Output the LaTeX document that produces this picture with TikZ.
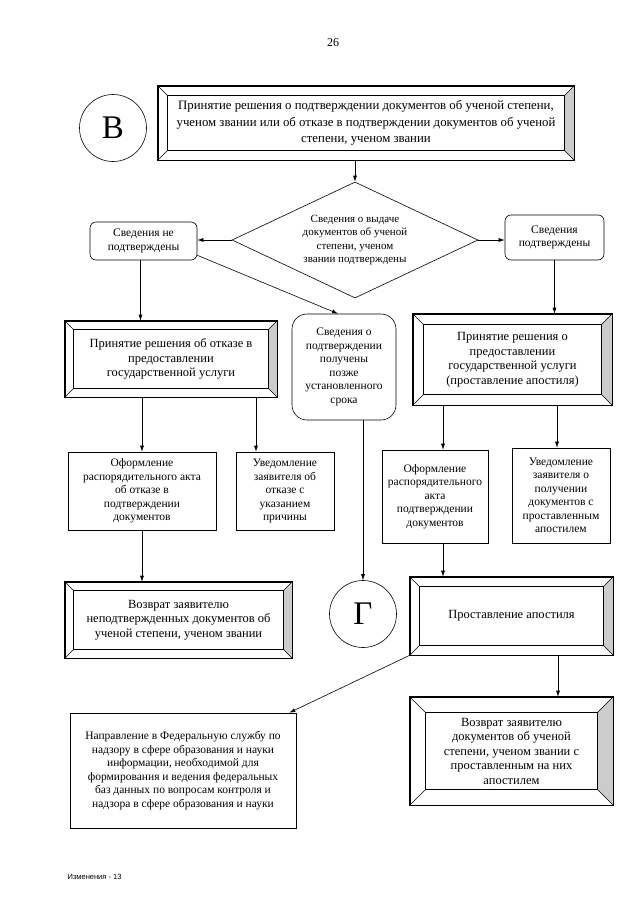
\documentclass[tikz,border=0pt]{standalone}
\usepackage{fontspec}
\setmainfont{Liberation Serif}
\newfontfamily\footfont{Liberation Sans}
\usetikzlibrary{shapes.geometric,arrows.meta}

\newcommand{\bevelframe}[2]{%
  \fill[gray!40] (#1.north east) -- (#1.south east) -- ([shift={(-#2,#2)}]#1.south east) -- ([shift={(-#2,-#2)}]#1.north east) -- cycle;
  \draw (#1.north west) rectangle (#1.south east);
  \draw ([shift={(#2,-#2)}]#1.north west) rectangle ([shift={(-#2,#2)}]#1.south east);
  \draw (#1.north west) -- ++(#2,-#2);
  \draw (#1.north east) -- ++(-#2,-#2);
  \draw (#1.south west) -- ++(#2,#2);
  \draw (#1.south east) -- ++(-#2,#2);
}

\begin{document}
\begin{tikzpicture}[x=1pt,y=-1pt,line width=0.6pt,
  bevelbox/.style={draw,inner sep=0pt,align=center,font=\fontsize{12.5}{14.5}\selectfont},
  actbox/.style={draw,inner sep=0pt,align=center,font=\fontsize{11.5}{13.5}\selectfont},
  infobox/.style={actbox,rounded corners=6pt},
  letter/.style={circle,draw,inner sep=0pt,minimum size=67pt,font=\fontsize{33}{33}\selectfont},
  flow/.style={-{Latex[length=6pt,width=4pt]}}]
\useasboundingbox (0,0) rectangle (640,905);
\node[font=\fontsize{12}{12}\selectfont] (page) at (333,43) {26};

\node[letter] (V) at (113,128) {В};
\node[bevelbox,minimum width=416pt,minimum height=74pt,font=\fontsize{12.8}{16.5}\selectfont] (top) at (366,123)
  {Принятие решения о подтверждении документов об ученой степени,\\
   ученом звании или об отказе в подтверждении документов об ученой\\
   степени, ученом звании};
\bevelframe{top}{10pt}

\node[diamond,draw,aspect=2.12,inner sep=0pt,minimum width=246pt,minimum height=116pt,align=center,font=\fontsize{11}{13.5}\selectfont] (check) at (355,240)
  {Сведения о выдаче\\ документов об ученой\\ степени, ученом\\ звании подтверждены};
\node[infobox,minimum width=107pt,minimum height=38pt] (no) at (143.5,241) {Сведения не\\ подтверждены};
\node[infobox,minimum width=99pt,minimum height=45pt] (yes) at (554.5,237.5) {Сведения\\ подтверждены};
\node[infobox,rounded corners=15pt,minimum width=104pt,minimum height=106pt] (late) at (344,367)
  {Сведения о\\ подтверждении\\ получены\\ позже\\ установленного\\ срока};

\node[bevelbox,minimum width=212pt,minimum height=76pt] (refuse) at (171,359)
  {Принятие решения об отказе в\\ предоставлении\\ государственной услуги};
\bevelframe{refuse}{9pt}
\node[bevelbox,minimum width=199pt,minimum height=91pt] (grant) at (512.5,359.5)
  {Принятие решения о\\ предоставлении\\ государственной услуги\\ (проставление апостиля)};
\bevelframe{grant}{11pt}

\node[actbox,minimum width=148pt,minimum height=78pt] (actno) at (142,491)
  {Оформление\\ распорядительного акта\\ об отказе в\\ подтверждении\\ документов};
\node[actbox,minimum width=98pt,minimum height=78pt] (noteno) at (285,491)
  {Уведомление\\ заявителя об\\ отказе с\\ указанием\\ причины};
\node[actbox,minimum width=106pt,minimum height=93pt] (actyes) at (435,496.5)
  {Оформление\\ распорядительного\\ акта\\ подтверждении\\ документов};
\node[actbox,minimum width=98pt,minimum height=95pt] (noteyes) at (561,495.5)
  {Уведомление\\ заявителя о\\ получении\\ документов с\\ проставленным\\ апостилем};

\node[bevelbox,minimum width=227pt,minimum height=76pt] (backno) at (178.5,620)
  {Возврат заявителю\\ неподтвержденных документов об\\ ученой степени, ученом звании};
\bevelframe{backno}{9pt}
\node[letter] (G) at (363,614) {Г};
\node[bevelbox,minimum width=203pt,minimum height=78pt] (apost) at (511.5,616)
  {Проставление апостиля};
\bevelframe{apost}{10pt}

\node[actbox,minimum width=226pt,minimum height=115pt] (send) at (183,770.5)
  {Направление в Федеральную службу по\\ надзору в сфере образования и науки\\ информации, необходимой для\\ формирования и ведения федеральных\\ баз данных по вопросам контроля и\\ надзора в сфере образования и науки};
\node[bevelbox,minimum width=203pt,minimum height=108pt] (backyes) at (511.5,751)
  {Возврат заявителю\\ документов об ученой\\ степени, ученом звании с\\ проставленным на них\\ апостилем};
\bevelframe{backyes}{16pt}

\node[font=\footfont\fontsize{7.5}{9}\selectfont,anchor=west] (foot) at (64,877) {Изменения - 13};

\draw[flow] (check.north |- top.south) -- (check.north);
\draw[flow] (check.west) -- (check.west -| no.east);
\draw[flow] (check.east) -- (check.east -| yes.west);
\draw[flow] ([xshift=-3pt]no.south) -- ([xshift=-3pt]no.south |- refuse.north);
\draw[flow] ([yshift=5pt]no.south east) -- ([xshift=-6pt]late.north);
\draw[flow] (yes.south) -- (yes.south |- grant.north);
\draw[flow] (refuse.south -| actno.north) -- (actno.north);
\draw[flow] (refuse.south -| 256,0) -- (noteno.north -| 256,0);
\draw[flow] (grant.south -| 443,0) -- (actyes.north -| 443,0);
\draw[flow] (grant.south -| 557,0) -- (noteyes.north -| 557,0);
\draw[flow] (G.north |- late.south) -- (G.north);
\draw[flow] (actno.south) -- (actno.south |- backno.north);
\draw[flow] (actyes.south -| 443,0) -- (apost.north -| 443,0);
\draw[flow] (apost.south -| 558,0) -- (backyes.north -| 558,0);
\draw[flow] (apost.south west) -- ([xshift=-7pt]send.north east);
\end{tikzpicture}
\end{document}
